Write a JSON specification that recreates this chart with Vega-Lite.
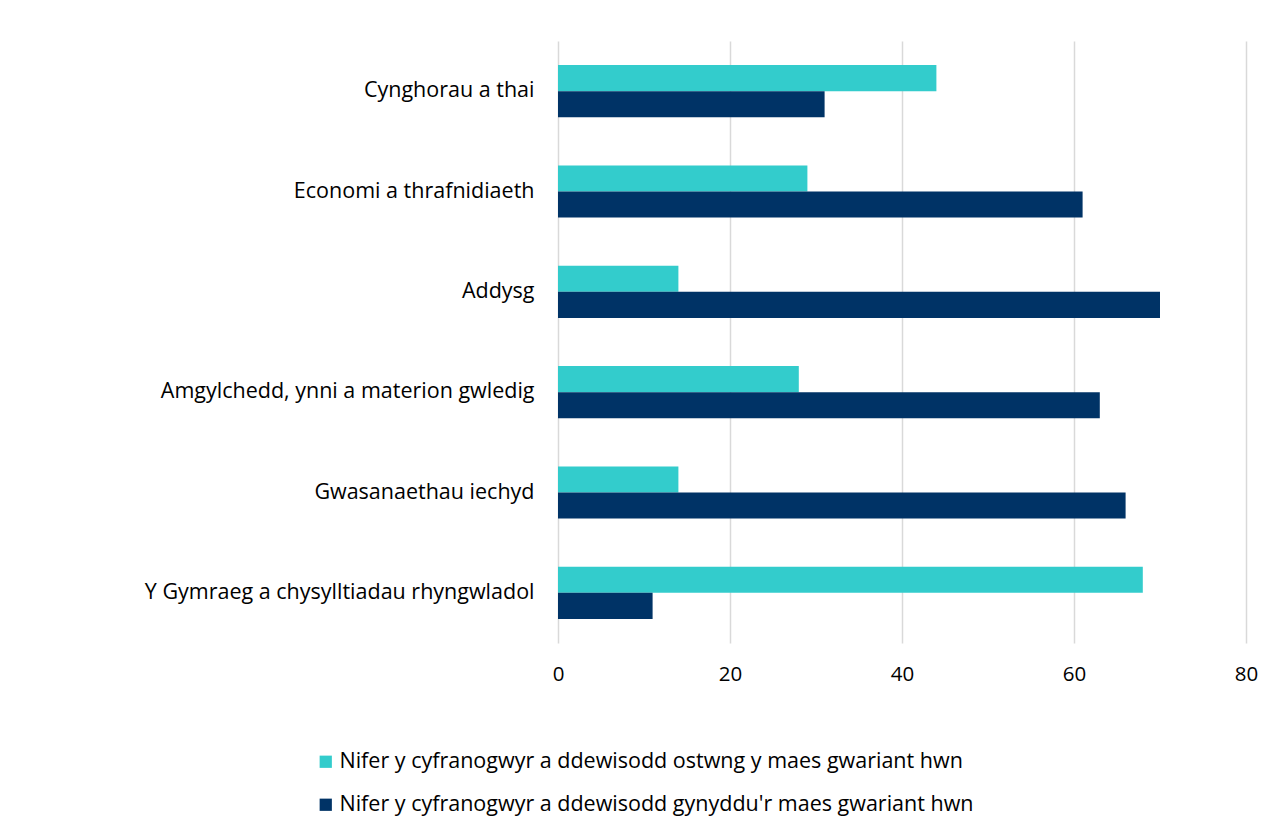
{
  "$schema": "https://vega.github.io/schema/vega-lite/v6.json",
  "autosize": {"type": "none"},
  "width": 688,
  "height": 602,
  "padding": {"left": 558, "top": 41, "right": 41, "bottom": 191},
  "background": "white",
  "config": {
    "font": "Open Sans",
    "view": {"stroke": null}
  },
  "data": {
    "values": [
      {"category": "Cynghorau a thai", "series": "Nifer y cyfranogwyr a ddewisodd ostwng y maes gwariant hwn", "value": 44},
      {"category": "Cynghorau a thai", "series": "Nifer y cyfranogwyr a ddewisodd gynyddu'r maes gwariant hwn", "value": 31},
      {"category": "Economi a thrafnidiaeth", "series": "Nifer y cyfranogwyr a ddewisodd ostwng y maes gwariant hwn", "value": 29},
      {"category": "Economi a thrafnidiaeth", "series": "Nifer y cyfranogwyr a ddewisodd gynyddu'r maes gwariant hwn", "value": 61},
      {"category": "Addysg", "series": "Nifer y cyfranogwyr a ddewisodd ostwng y maes gwariant hwn", "value": 14},
      {"category": "Addysg", "series": "Nifer y cyfranogwyr a ddewisodd gynyddu'r maes gwariant hwn", "value": 70},
      {"category": "Amgylchedd, ynni a materion gwledig", "series": "Nifer y cyfranogwyr a ddewisodd ostwng y maes gwariant hwn", "value": 28},
      {"category": "Amgylchedd, ynni a materion gwledig", "series": "Nifer y cyfranogwyr a ddewisodd gynyddu'r maes gwariant hwn", "value": 63},
      {"category": "Gwasanaethau iechyd", "series": "Nifer y cyfranogwyr a ddewisodd ostwng y maes gwariant hwn", "value": 14},
      {"category": "Gwasanaethau iechyd", "series": "Nifer y cyfranogwyr a ddewisodd gynyddu'r maes gwariant hwn", "value": 66},
      {"category": "Y Gymraeg a chysylltiadau rhyngwladol", "series": "Nifer y cyfranogwyr a ddewisodd ostwng y maes gwariant hwn", "value": 68},
      {"category": "Y Gymraeg a chysylltiadau rhyngwladol", "series": "Nifer y cyfranogwyr a ddewisodd gynyddu'r maes gwariant hwn", "value": 11}
    ]
  },
  "mark": {"type": "bar"},
  "encoding": {
    "y": {
      "field": "category",
      "type": "nominal",
      "sort": null,
      "scale": {"paddingInner": 0.48, "paddingOuter": 0.24},
      "axis": {
        "title": null,
        "domain": false,
        "ticks": false,
        "labelPadding": 24,
        "labelFontSize": 21.5,
        "labelColor": "#000000",
        "labelLimit": 600
      }
    },
    "yOffset": {
      "field": "series",
      "type": "nominal",
      "sort": null,
      "scale": {"paddingInner": 0, "paddingOuter": 0}
    },
    "x": {
      "field": "value",
      "type": "quantitative",
      "scale": {"domain": [0, 80], "nice": false},
      "axis": {
        "title": null,
        "values": [0, 20, 40, 60, 80],
        "domain": false,
        "ticks": false,
        "grid": true,
        "gridColor": "#d9d9d9",
        "gridWidth": 1.5,
        "labelPadding": 21,
        "labelFontSize": 20.5,
        "labelColor": "#000000",
        "labelFlush": false
      }
    },
    "color": {
      "field": "series",
      "type": "nominal",
      "sort": null,
      "scale": {
        "domain": ["Nifer y cyfranogwyr a ddewisodd ostwng y maes gwariant hwn", "Nifer y cyfranogwyr a ddewisodd gynyddu'r maes gwariant hwn"],
        "range": ["#33CCCC", "#003366"]
      },
      "legend": {
        "title": null,
        "orient": "none",
        "legendX": -243,
        "legendY": 710,
        "direction": "vertical",
        "symbolType": "square",
        "symbolSize": 150,
        "symbolStrokeWidth": 0,
        "labelFontSize": 21.5,
        "labelColor": "#000000",
        "labelLimit": 900,
        "rowPadding": 20,
        "labelOffset": 3
      }
    }
  }
}
